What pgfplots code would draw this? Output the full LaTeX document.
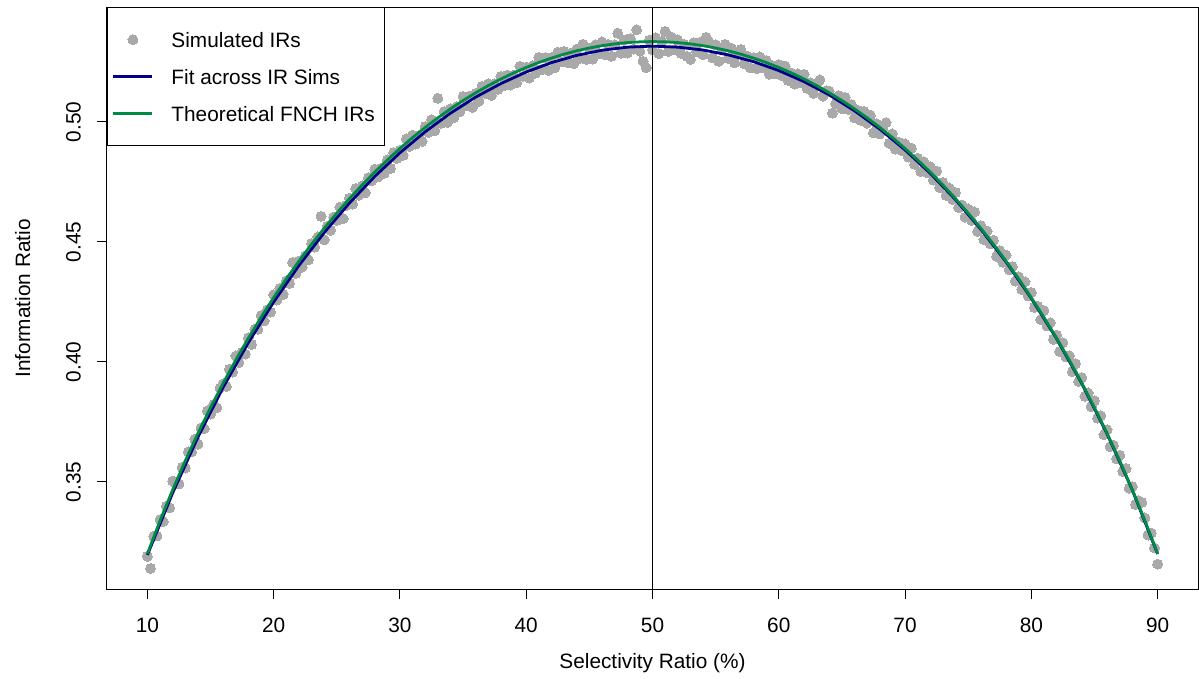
\documentclass[border=0pt]{standalone}
\usepackage{pgfplots}
\pgfplotsset{compat=1.18}
\usepackage{pgfplotstable}
\usepackage{fontspec}
\setmainfont{Liberation Sans}
\definecolor{dotgray}{RGB}{169,169,169}
\definecolor{fitblue}{RGB}{0,0,139}
\definecolor{thgreen}{RGB}{0,139,69}
\pgfplotsset{
  mylegend/.style={legend image code/.code={\draw[mark repeat=2,mark phase=2,##1] plot coordinates {(1.5pt,0pt)(11.25pt,0pt)(21pt,0pt)}; \pgfpathrectangle{\pgfpoint{0pt}{-0.1pt}}{\pgfpoint{27pt}{0.2pt}}\pgfusepath{discard}}}
}
\pgfplotstableread{
x y
10 .3190
10.25 .3140
10.5 .3274
10.75 .3275
11 .3343
11.25 .3335
11.5 .3399
11.75 .3392
12 .3504
12.25 .3494
12.5 .3492
12.75 .3561
13 .3558
13.25 .3626
13.5 .3625
13.75 .3678
14 .3658
14.25 .3725
14.5 .3722
14.75 .3796
15 .3783
15.25 .3823
15.5 .3809
15.75 .3891
16 .3909
16.25 .3898
16.5 .3970
16.75 .3958
17 .4025
17.25 .3998
17.5 .4041
17.75 .4033
18 .4101
18.25 .4073
18.5 .4137
18.75 .4136
19 .4193
19.25 .4171
19.5 .4217
19.75 .4208
20 .4280
20.25 .4258
20.5 .4307
20.75 .4281
21 .4338
21.25 .4327
21.5 .4415
21.75 .4369
22 .4420
22.25 .4395
22.5 .4442
22.75 .4425
23 .4494
23.25 .4479
23.5 .4521
23.75 .4607
24 .4509
24.25 .4565
24.5 .4549
24.75 .4604
25 .4590
25.25 .4645
25.5 .4597
25.75 .4652
26 .4682
26.25 .4658
26.5 .4723
26.75 .4695
27 .4734
27.25 .4705
27.5 .4768
27.75 .4755
28 .4803
28.25 .4771
28.5 .4807
28.75 .4786
29 .4842
29.25 .4806
29.5 .4873
29.75 .4848
30 .4882
30.25 .4861
30.5 .4930
30.75 .4898
31 .4945
31.25 .4908
31.5 .4943
31.75 .4919
32 .4981
32.25 .4957
32.5 .5009
32.75 .4964
33 .5099
33.25 .4994
33.5 .5043
33.75 .4998
34 .5055
34.25 .5018
34.5 .5064
34.75 .5043
35 .5106
35.25 .5069
35.5 .5108
35.75 .5061
36 .5119
36.25 .5087
36.5 .5149
36.75 .5119
37 .5159
37.25 .5111
37.5 .5159
37.75 .5136
38 .5190
38.25 .5151
38.5 .5195
38.75 .5154
39 .5195
39.25 .5163
39.5 .5232
39.75 .5190
40 .5228
40.25 .5183
40.5 .5234
40.75 .5204
41 .5269
41.25 .5219
41.5 .5268
41.75 .5215
42 .5269
42.25 .5226
42.5 .5291
42.75 .5250
43 .5294
43.25 .5248
43.5 .5286
43.75 .5243
44 .5303
44.25 .5266
44.5 .5324
44.75 .5261
45 .5307
45.25 .5262
45.5 .5322
45.75 .5285
46 .5334
46.25 .5281
46.5 .5323
46.75 .5274
47 .5321
47.25 .5370
47.5 .5287
47.75 .5341
48 .5287
48.25 .5348
48.5 .5304
48.75 .5384
49 .5295
49.25 .5253
49.5 .5226
49.75 .5341
50 .5301
50.25 .5351
50.5 .5285
50.75 .5335
51 .5377
51.25 .5294
51.5 .5354
51.75 .5301
52 .5342
52.25 .5286
52.5 .5324
52.75 .5273
53 .5261
53.25 .5330
53.5 .5293
53.75 .5332
54 .5280
54.25 .5353
54.5 .5331
54.75 .5268
55 .5321
55.25 .5253
55.5 .5306
55.75 .5323
56 .5265
56.25 .5307
56.5 .5246
56.75 .5282
57 .5302
57.25 .5243
57.5 .5274
57.75 .5225
58 .5269
58.25 .5222
58.5 .5271
58.75 .5226
59 .5256
59.25 .5199
59.5 .5234
59.75 .5201
60 .5239
60.25 .5194
60.5 .5233
60.75 .5173
61 .5204
61.25 .5158
61.5 .5200
61.75 .5164
62 .5198
62.25 .5140
62.5 .5163
62.75 .5119
63 .5160
63.25 .5175
63.5 .5108
63.75 .5130
64 .5128
64.25 .5037
64.5 .5077
64.75 .5110
65 .5055
65.25 .5102
65.5 .5052
65.75 .5073
66 .5017
66.25 .5048
66.5 .5007
66.75 .5044
67 .4995
67.25 .5028
67.5 .4955
67.75 .4992
68 .4950
68.25 .4975
68.5 .4997
68.75 .4911
69 .4950
69.25 .4887
69.5 .4916
69.75 .4880
70 .4909
70.25 .4854
70.5 .4891
70.75 .4824
71 .4849
71.25 .4794
71.5 .4834
71.75 .4789
72 .4814
72.25 .4758
72.5 .4795
72.75 .4726
73 .4748
73.25 .4694
73.5 .4725
73.75 .4678
74 .4706
74.25 .4643
74.5 .4654
74.75 .4603
75 .4638
75.25 .4590
75.5 .4625
75.75 .4544
76 .4568
76.25 .4509
76.5 .4545
76.75 .4492
77 .4507
77.25 .4440
77.5 .4464
77.75 .4415
78 .4445
78.25 .4384
78.5 .4398
78.75 .4337
79 .4355
79.25 .4302
79.5 .4334
79.75 .4275
80 .4290
80.25 .4227
80.5 .4233
80.75 .4176
81 .4214
81.25 .4150
81.5 .4163
81.75 .4094
82 .4112
82.25 .4044
82.5 .4080
82.75 .4021
83 .4026
83.25 .3960
83.5 .3993
83.75 .3919
84 .3935
84.25 .3857
84.5 .3871
84.75 .3814
85 .3838
85.25 .3766
85.5 .3776
85.75 .3697
86 .3718
86.25 .3647
86.5 .3653
86.75 .3597
87 .3611
87.25 .3544
87.5 .3556
87.75 .3474
88 .3481
88.25 .3406
88.5 .3422
88.75 .3415
89 .3350
89.25 .3279
89.5 .3287
89.75 .3225
90 .3158
}\simdata
\pgfplotstableread{
x y
10 0.31960
12 0.34543
14 0.36864
16 0.38947
18 0.40813
20 0.42500
22 0.44020
24 0.45389
26 0.46622
28 0.47728
30 0.48716
32 0.49593
34 0.50365
36 0.51036
38 0.51601
40 0.52082
42 0.52473
44 0.52775
46 0.52989
48 0.53117
50 0.53160
52 0.53117
54 0.52999
56 0.52795
58 0.52513
60 0.52142
62 0.51681
64 0.51126
66 0.50465
68 0.49703
70 0.48836
72 0.47858
74 0.46762
76 0.45529
78 0.44170
80 0.42650
82 0.40973
84 0.39097
86 0.37004
88 0.34663
90 0.32000
}\fitdata
\pgfplotstableread{
x y
10 0.32010
11 0.33385
12 0.34673
13 0.35883
14 0.37024
15 0.38099
16 0.39117
17 0.40080
18 0.40993
19 0.41858
20 0.42680
21 0.43460
22 0.44200
23 0.44903
24 0.45569
25 0.46202
26 0.46802
27 0.47371
28 0.47908
29 0.48416
30 0.48896
31 0.49348
32 0.49773
33 0.50171
34 0.50545
35 0.50893
36 0.51216
37 0.51515
38 0.51791
39 0.52043
40 0.52272
41 0.52478
42 0.52663
43 0.52825
44 0.52965
45 0.53082
46 0.53179
47 0.53254
48 0.53307
49 0.53339
50 0.53350
51 0.53339
52 0.53307
53 0.53254
54 0.53179
55 0.53082
56 0.52965
57 0.52825
58 0.52663
59 0.52478
60 0.52272
61 0.52043
62 0.51791
63 0.51515
64 0.51216
65 0.50893
66 0.50545
67 0.50171
68 0.49773
69 0.49348
70 0.48896
71 0.48416
72 0.47908
73 0.47371
74 0.46802
75 0.46202
76 0.45569
77 0.44903
78 0.44200
79 0.43460
80 0.42680
81 0.41858
82 0.40993
83 0.40080
84 0.39117
85 0.38099
86 0.37024
87 0.35883
88 0.34673
89 0.33385
90 0.32010
}\theodata
\begin{document}
\begin{tikzpicture}
\path[use as bounding box] (0,0) rectangle (599.5pt,339.5pt);
\begin{axis}[
  at={(53.5pt,44.75pt)}, anchor=south west,
  scale only axis, width=545.5pt, height=291pt,
  xmin=6.8, xmax=93.2, ymin=0.3052, ymax=0.5477,
  clip marker paths=true,
  xtick={10,20,30,40,50,60,70,80,90},
  xticklabels={10,20,30,40,50,60,70,80,90},
  ytick={0.35,0.40,0.45,0.50},
  yticklabels={0.35,0.40,0.45,0.50},
  xtick pos=left, ytick pos=left,
  tick align=outside, major tick length=5pt,
  every tick/.style={black, line width=0.5pt},
  axis line style={black, line width=0.5pt},
  tick label style={font=\fontsize{10.4}{12.5}\selectfont},
  label style={font=\fontsize{10.4}{12.5}\selectfont},
  xticklabel shift=5.5pt,
  yticklabel style={rotate=90, anchor=south},
  yticklabel shift=4.6pt,
  xlabel={Selectivity Ratio (\%)},
  ylabel={Information Ratio},
  xlabel style={at={(axis description cs:0.5,-0.1263)}, anchor=center},
  ylabel style={at={(axis description cs:-0.0772,0.5)}, anchor=center},
  legend cell align=left,
  legend style={at={(0,1)}, anchor=north west, draw=black, line width=0.5pt, fill=white,
    inner xsep=1.5pt, inner ysep=8.1pt, row sep=2.96pt,
    font=\fontsize{10.4}{12.5}\selectfont,
    nodes={inner sep=3.47pt, text height=8pt, text depth=0.6pt}},
]
\addplot[only marks, mark=*, mark size=2.5pt, color=dotgray,
  mark options={draw=dotgray, fill=dotgray, line width=0pt}, mylegend]
  table[x=x,y=y] {\simdata};
\addlegendentry{Simulated IRs}
\addplot[no marks, color=fitblue, line width=1.4pt, mylegend]
  table[x=x,y=y] {\fitdata};
\addlegendentry{Fit across IR Sims}
\addplot[no marks, color=thgreen, line width=1.4pt, mylegend]
  table[x=x,y=y] {\theodata};
\addlegendentry{Theoretical FNCH IRs}
\addplot[forget plot, no marks, black, line width=0.5pt] coordinates {(50,0.3052) (50,0.5477)};
\end{axis}
\end{tikzpicture}
\end{document}
